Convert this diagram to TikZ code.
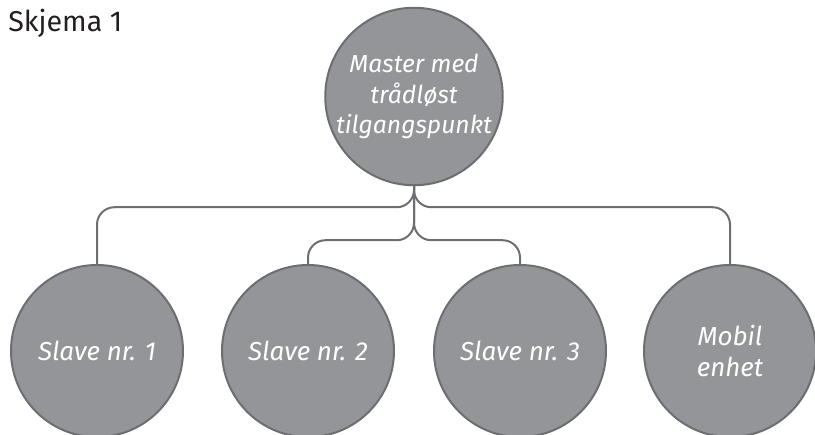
\documentclass[tikz,border=0pt]{standalone}
\usepackage{fontspec}
\setmainfont{Fira Sans}
\usepackage{tikz}
\usetikzlibrary{positioning,calc}
\usepackage{xcolor}
\definecolor{bubble}{HTML}{939598}
\definecolor{rim}{HTML}{6D6E71}
\definecolor{ink}{HTML}{231F20}
\tikzset{
  unitnode/.style={circle,draw=rim,fill=bubble,text=white,
    minimum size=129pt,inner sep=0pt,align=center,
    font=\fontsize{19.5}{23}\selectfont\itshape,line width=1.5pt},
  masternode/.style={unitnode,font=\fontsize{18.5}{23}\selectfont\itshape},
  wire/.style={draw=rim,line width=1.5pt,rounded corners=13pt},
  titletext/.style={anchor=base west,inner sep=0pt,text=ink,
    font=\fontsize{21.5}{24}\selectfont},
}
\begin{document}
\begin{tikzpicture}[x=0.75pt,y=-0.75pt]
  \useasboundingbox (0,0) rectangle (815,435);
  \clip (0,0) rectangle (815,435);
  \node[titletext] (title) at (8,32) {Skjema 1};
  \node[masternode] (master) at (414,96.5) {Master med\\trådløst\\tilgangspunkt};
  \node[unitnode] (slave1) at (97,351) {Slave nr. 1};
  \node[unitnode] (slave2) at (308,351) {Slave nr. 2};
  \node[unitnode] (slave3) at (520,351) {Slave nr. 3};
  \node[unitnode] (mobile) at (730,351) {Mobil\\enhet};
  % outer branch
  \draw[wire] (master.south) -- ++(0,21) -| (slave1.north);
  \draw[wire] (master.south) -- ++(0,21) -| (mobile.north);
  % inner branch
  \draw[wire] (master.south) -- ++(0,54) -| (slave2.north);
  \draw[wire] (master.south) -- ++(0,54) -| (slave3.north);
\end{tikzpicture}
\end{document}
